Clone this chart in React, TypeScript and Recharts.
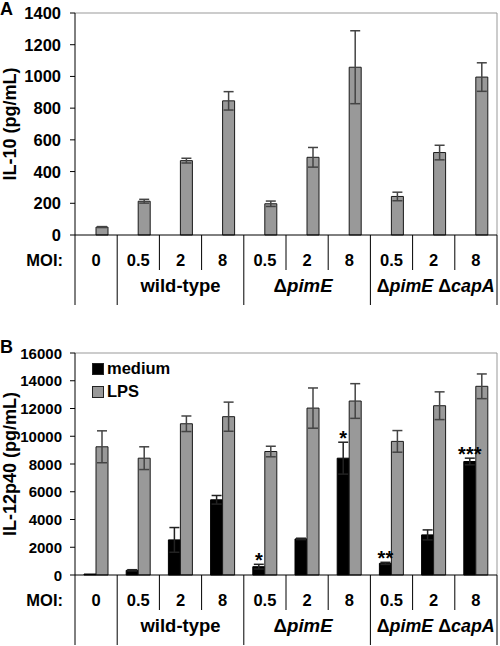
import React from "react";
import {
  Bar,
  BarChart,
  CartesianGrid,
  ErrorBar,
  Label,
  LabelList,
  XAxis,
  YAxis,
} from "recharts";

// categories
const moiLabels = ["0", "0.5", "2", "8", "0.5", "2", "8", "0.5", "2", "8"];
const groupLabels = ["wild-type", "ΔpimE", "ΔpimE ΔcapA"];
const groupFirst = [1, 4, 7];

// panel A: IL-10
const il10 = [50, 213, 469, 846, 197, 490, 1058, 243, 520, 996];
const il10Err = [3, 12, 15, 58, 17, 62, 230, 27, 46, 90];

// panel B: IL-12p40
const medium = [70, 337, 2530, 5420, 600, 2600, 8420, 840, 2890, 8180];
const mediumErr = [0, 45, 890, 310, 170, 50, 1150, 75, 360, 240];
const lps = [9240, 8420, 10900, 11410, 8900, 12030, 12540, 9630, 12200, 13600];
const lpsErr = [1150, 820, 560, 1050, 380, 1450, 1250, 780, 1000, 890];
const mediumSig = ["", "", "", "", "*", "", "*", "**", "", "***"];

const ticksA = [0, 200, 400, 600, 800, 1000, 1200, 1400];
const ticksB = [0, 2000, 4000, 6000, 8000, 10000, 12000, 14000, 16000];

const seriesB = [
  { key: "medium", name: "medium", color: "#000" },
  { key: "lps", name: "LPS", color: "#999" },
];

const dataA = moiLabels.map((m, i) => ({ id: i, moi: m, il10: il10[i], il10Err: il10Err[i] }));
const dataB = moiLabels.map((m, i) => ({
  id: i,
  moi: m,
  medium: medium[i],
  mediumErr: mediumErr[i],
  lps: lps[i],
  lpsErr: lpsErr[i],
}));

const W = 500;
const H = 310;
const TOP = 13;
const RIGHT = 3;
const Y_W = 75;
const X_H = 75;
const PLOT_H = H - TOP - X_H;
const BAND = (W - Y_W - RIGHT) / moiLabels.length;
const FONT = "'Liberation Sans', Arial, Helvetica, sans-serif";
// rendered widths of the strain labels, matching the figure
const GROUP_TEXT_W = [80, 59, 118];

const renderGroup = (label: string) => {
  const parts = label.split("Δ");
  const out: React.ReactNode[] = [];
  parts.forEach((p, k) => {
    if (k === 0) {
      if (p) out.push(<tspan key={k}>{p}</tspan>);
      return;
    }
    const trail = p.endsWith(" ");
    out.push(<tspan key={k + "d"}>Δ</tspan>);
    out.push(
      <tspan key={k + "i"} fontStyle="italic">
        {p.trimEnd() + (trail ? " " : "")}
      </tspan>
    );
  });
  return out;
};

const CategoryTick = (props: any) => {
  const { x, y, payload } = props;
  const i = payload?.index ?? props.index ?? 0;
  const left = x - BAND / 2;
  const right = x + BAND / 2;
  const major = i === 0 || groupFirst.includes(i);
  const g = groupFirst.findIndex((s) => s + 1 === i);
  const last = i === moiLabels.length - 1;
  return (
    <g>
      <line x1={left} x2={left} y1={y} y2={y + (major ? 70 : 35)} stroke="#000" />
      {last && <line x1={right} x2={right} y1={y} y2={y + 70} stroke="#000" />}
      <text x={x} y={y + 31} textAnchor="middle" fontSize={16.5} fontWeight="bold" fill="#000">
        {moiLabels[i]}
      </text>
      {i === 0 && (
        <text x={left - 12} y={y + 31} textAnchor="end" fontSize={16.5} fontWeight="bold" fill="#000">
          MOI:
        </text>
      )}
      {g >= 0 && (
        <text
          x={x + (g === 2 ? 2 : g === 1 ? -4 : 0)}
          y={y + 57}
          textAnchor="middle"
          fontSize={18}
          fontWeight="bold"
          fill="#000"
          textLength={GROUP_TEXT_W[g]}
          lengthAdjust="spacingAndGlyphs"
        >
          {renderGroup(groupLabels[g])}
        </text>
      )}
    </g>
  );
};

const valueTick = (size: number, right: number) => (props: any) => {
  const { y, payload } = props;
  return (
    <text
      x={right}
      y={y}
      textAnchor="end"
      dominantBaseline="central"
      fontSize={size}
      fontWeight="bold"
      fill="#000"
    >
      {payload.value}
    </text>
  );
};

const yTitle = (text: string) => (props: any) => {
  const vb = props.viewBox || { x: 0, y: TOP, height: PLOT_H };
  const cy = vb.y + vb.height / 2;
  return (
    <text
      x={10}
      y={cy}
      transform={`rotate(-90, 10, ${cy})`}
      textAnchor="middle"
      dominantBaseline="central"
      fontSize={18}
      fontWeight="bold"
      fill="#000"
    >
      {text}
    </text>
  );
};

const renderStars = (props: any) => {
  const { x, y, width, index } = props;
  const s = mediumSig[index];
  if (!s) return null;
  const errPx = (mediumErr[index] * PLOT_H) / 16000;
  return (
    <text
      x={x + width / 2}
      y={y - errPx + 3}
      textAnchor="middle"
      fontSize={20}
      fontWeight="bold"
      fill="#000"
    >
      {s}
    </text>
  );
};

const LegendBox = () => (
  <div
    style={{
      position: "absolute",
      left: 92,
      top: 17,
      fontFamily: FONT,
      fontWeight: "bold",
      fontSize: 16.5,
      lineHeight: "23px",
    }}
  >
    {seriesB.map((s) => (
      <div key={s.key} style={{ display: "flex", alignItems: "center", height: 23 }}>
        <span
          style={{
            display: "inline-block",
            width: 12,
            height: 12,
            background: s.color,
            border: "1px solid #222",
            boxSizing: "border-box",
            marginRight: 3,
          }}
        />
        <span>{s.name}</span>
      </div>
    ))}
  </div>
);

const TickA = valueTick(16.5, 61);
const TickB = valueTick(15, 62);

export default function App() {
  return (
    <div
      style={{
        position: "absolute",
        left: 0,
        top: 0,
        width: W,
        height: 646,
        background: "#fff",
        fontFamily: FONT,
      }}
    >
      <div style={{ position: "absolute", left: 0, top: 0 }}>
        <BarChart
          width={W}
          height={H}
          data={dataA}
          barGap={0}
          margin={{ top: TOP, right: RIGHT, bottom: 0, left: 0 }}
        >
          <CartesianGrid horizontalPoints={[TOP]} verticalPoints={[W - RIGHT]} stroke="#999" />
          <XAxis
            dataKey="id"
            interval={0}
            height={X_H}
            tick={<CategoryTick />}
            tickLine={false}
            tickSize={0}
            tickMargin={0}
            stroke="#000"
          />
          <YAxis
            width={Y_W}
            domain={[0, 1400]}
            ticks={ticksA}
            tick={<TickA />}
            tickSize={5}
            stroke="#000"
          >
            <Label content={yTitle("IL-10 (pg/mL)")} />
          </YAxis>
          {/* empty slot: the original figure puts each IL-10 bar in the right half of its category */}
          <Bar dataKey="unused" fill="none" barSize={12} isAnimationActive={false} legendType="none" />
          <Bar dataKey="il10" fill="#999" stroke="#1a1a1a" barSize={12} isAnimationActive={false}>
            <ErrorBar dataKey="il10Err" width={5} stroke="#444" strokeWidth={1.5} />
          </Bar>
        </BarChart>
      </div>
      <div style={{ position: "absolute", left: 0, top: 340 }}>
        <BarChart
          width={W}
          height={H}
          data={dataB}
          barGap={0}
          margin={{ top: TOP, right: RIGHT, bottom: 0, left: 0 }}
        >
          <CartesianGrid horizontalPoints={[TOP]} verticalPoints={[W - RIGHT]} stroke="#999" />
          <XAxis
            dataKey="id"
            interval={0}
            height={X_H}
            tick={<CategoryTick />}
            tickLine={false}
            tickSize={0}
            tickMargin={0}
            stroke="#000"
          />
          <YAxis
            width={Y_W}
            domain={[0, 16000]}
            ticks={ticksB}
            tick={<TickB />}
            tickSize={5}
            stroke="#000"
          >
            <Label content={yTitle("IL-12p40  (pg/mL)")} />
          </YAxis>
          {seriesB.map((s) => (
            <Bar
              key={s.key}
              dataKey={s.key}
              name={s.name}
              fill={s.color}
              stroke={s.key === "medium" ? "#000" : "#1a1a1a"}
              barSize={12}
              isAnimationActive={false}
            >
              <ErrorBar
                dataKey={s.key + "Err"}
                width={5}
                stroke={s.key === "medium" ? "#222" : "#444"}
                strokeWidth={1.5}
              />
              {s.key === "medium" && <LabelList dataKey="medium" content={renderStars} />}
            </Bar>
          ))}
        </BarChart>
        <LegendBox />
      </div>
      <svg
        width={W}
        height={646}
        style={{ position: "absolute", left: 0, top: 0, pointerEvents: "none" }}
      >
        <text x={0} y={15} fontSize={18} fontWeight="bold" fill="#000">
          A
        </text>
        <text x={0} y={353} fontSize={18} fontWeight="bold" fill="#000">
          B
        </text>
      </svg>
    </div>
  );
}
